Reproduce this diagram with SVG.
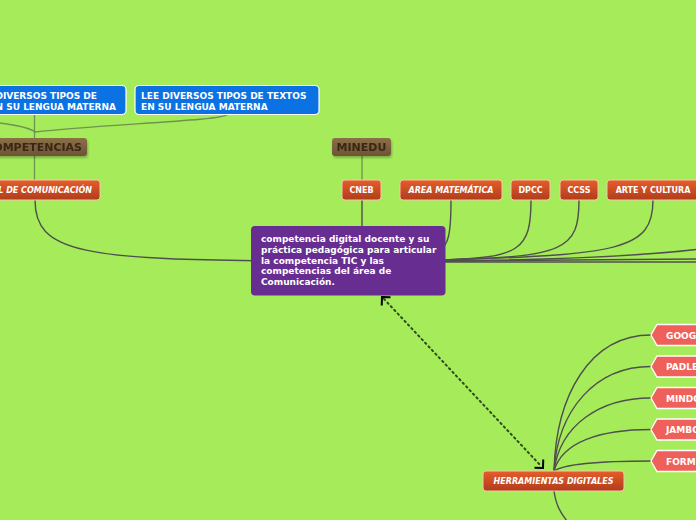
<svg xmlns="http://www.w3.org/2000/svg" width="696" height="520" viewBox="0 0 696 520">
<defs>
<linearGradient id="gOr" x1="0" y1="0" x2="0" y2="1"><stop offset="0" stop-color="#e65d2b"/><stop offset="1" stop-color="#b03c1b"/></linearGradient>
<linearGradient id="gBr" x1="0" y1="0" x2="0" y2="1"><stop offset="0" stop-color="#8a7048"/><stop offset="1" stop-color="#6c5434"/></linearGradient>
<marker id="arr" viewBox="-8 -8 10 16" markerWidth="10" markerHeight="16" refX="0" refY="0" markerUnits="userSpaceOnUse" orient="auto-start-reverse">
<path d="M -6 -6 L 0 0 L -6 6" fill="none" stroke="#000" stroke-width="2"/>
</marker>
<filter id="sh" x="-10%" y="-20%" width="120%" height="160%"><feDropShadow dx="1" dy="2" stdDeviation="1" flood-color="#000" flood-opacity="0.25"/></filter>
</defs>
<style>
.t{font-family:"DejaVu Sans",Verdana,sans-serif;font-weight:bold;fill:#fff}
.o{fill:url(#gOr);stroke:#f5c8a8;stroke-width:1}
.b{fill:#0a72e2;stroke:#fff;stroke-width:1.2}
.br{fill:url(#gBr)}
.bt{font-family:"DejaVu Sans",Verdana,sans-serif;font-weight:bold;fill:#3b2612;font-size:11px}
.p{fill:#f0605a;stroke:#fff;stroke-width:1.3}
.c{fill:none;stroke:#4f4f4f;stroke-width:1.4}
.g{fill:none;stroke:#6e9250;stroke-width:1.3}
</style>
<rect width="696" height="520" fill="#a6ec5a"/>
<g id="connectors">
<path class="g" d="M 34.5 114 L 34.5 138"/>
<path class="g" d="M 228 114 C 226 121, 100 124, 35 132"/>
<path class="g" d="M 0 123 C 15 125, 30 128, 35 132"/>
<path class="g" d="M 34.5 156 L 34.5 180"/>
<path class="g" d="M 362 156 L 362 180"/>
<path class="c" stroke-width="2" d="M 300 261 C 80 260.5, 35 252, 35 200"/>
<path class="c" d="M 362 200 L 362 240"/>
<path class="c" d="M 451 200 C 451 235, 448 245, 440 250"/>
<path class="c" d="M 531 200 C 531 250, 520 258, 440 260"/>
<path class="c" d="M 579 200 C 579 250, 565 257, 440 260"/>
<path class="c" d="M 653 200 C 653 250, 620 255, 440 260"/>
<path class="c" stroke-width="2" d="M 440 261 C 560 260, 640 256, 700 249"/>
<path class="c" stroke-width="2.4" d="M 440 261 L 700 259"/>
<path class="c" stroke-width="2.4" d="M 440 262 L 700 262"/>
<path d="M 384 299 L 541 466" fill="none" stroke="#2f4a1e" stroke-width="2" stroke-dasharray="1.5 3.5" stroke-linecap="round"/>
<path d="M 382 297 L 543 468" fill="none" stroke="none" marker-start="url(#arr)" marker-end="url(#arr)"/>
<path class="c" d="M 554 471 C 556 395, 590 335, 651 335"/>
<path class="c" d="M 554 471 C 558 410, 595 366.5, 651 366.5"/>
<path class="c" d="M 554 471 C 560 425, 600 398, 651 398"/>
<path class="c" d="M 554 471 C 562 442, 600 429.5, 651 429.5"/>
<path class="c" d="M 554 471 C 566 463, 605 461, 651 461"/>
<path class="c" d="M 554 491 C 556 505, 560 512, 567 521"/>
</g>
<g id="n-blue1"><rect class="b" x="-20" y="85.5" width="146" height="29" rx="4"/><text class="t" font-size="9" text-anchor="end" x="97" y="98.5">DIVERSOS TIPOS DE</text><text class="t" font-size="9" text-anchor="end" x="116" y="109.5">EN SU LENGUA MATERNA</text></g>
<g id="n-blue2"><rect class="b" x="135" y="85.5" width="184" height="29" rx="4"/><text class="t" font-size="9" x="141" y="98.5">LEE DIVERSOS TIPOS DE TEXTOS</text><text class="t" font-size="9" x="141" y="109.5">EN SU LENGUA MATERNA</text></g>
<g id="n-competencias" filter="url(#sh)"><rect class="br" x="-20" y="138" width="107" height="18" rx="3"/><text class="bt" x="82" y="151" text-anchor="end">COMPETENCIAS</text></g>
<g id="n-minedu" filter="url(#sh)"><rect class="br" x="332" y="138" width="59" height="18" rx="3"/><text class="bt" x="361.5" y="151" text-anchor="middle">MINEDU</text></g>
<g id="n-comunicacion"><rect class="o" x="-20" y="180" width="120" height="20" rx="3"/><text class="t" font-size="8" font-style="italic" x="92" y="193" text-anchor="end">L DE COMUNICACIÓN</text></g>
<g id="n-cneb"><rect class="o" x="342" y="180" width="39" height="20" rx="3"/><text class="t" font-size="8" x="361.5" y="193" text-anchor="middle">CNEB</text></g>
<g id="n-matematica"><rect class="o" x="400" y="180" width="102" height="20" rx="3"/><text class="t" font-size="8" font-style="italic" x="451" y="193" text-anchor="middle">AREA MATEMÁTICA</text></g>
<g id="n-dpcc"><rect class="o" x="511" y="180" width="39" height="20" rx="3"/><text class="t" font-size="8" x="530.5" y="193" text-anchor="middle">DPCC</text></g>
<g id="n-ccss"><rect class="o" x="560" y="180" width="38" height="20" rx="3"/><text class="t" font-size="8" x="579" y="193" text-anchor="middle">CCSS</text></g>
<g id="n-arte"><rect class="o" x="607" y="180" width="95" height="20" rx="3"/><text class="t" font-size="8" x="653" y="193" text-anchor="middle">ARTE Y CULTURA</text></g>
<g id="n-central"><rect x="251" y="226" width="194.5" height="69.5" rx="4" fill="#672d91"/>
<text class="t" font-size="9" x="261" y="241.7">competencia digital docente y su</text>
<text class="t" font-size="9" x="261" y="252.6">práctica pedagógica para articular</text>
<text class="t" font-size="9" x="261" y="263.5">la competencia TIC y las</text>
<text class="t" font-size="9" x="261" y="274.4">competencias del área de</text>
<text class="t" font-size="9" x="261" y="285.3">Comunicación.</text></g>
<g id="n-herramientas"><rect class="o" x="483" y="471" width="141" height="20" rx="3"/><text class="t" font-size="8" font-style="italic" x="553.5" y="484.3" text-anchor="middle">HERRAMIENTAS DIGITALES</text></g>
<g id="n-goog"><path class="p" d="M 651 335 L 657 324.5 L 702 324.5 L 702 345.5 L 657 345.5 Z"/><text class="t" font-size="9" x="666" y="338.5">GOOG</text></g>
<g id="n-padle"><path class="p" d="M 651 366.5 L 657 356 L 702 356 L 702 377 L 657 377 Z"/><text class="t" font-size="9" x="666" y="370">PADLE</text></g>
<g id="n-mindo"><path class="p" d="M 651 398 L 657 387.5 L 702 387.5 L 702 408.5 L 657 408.5 Z"/><text class="t" font-size="9" x="666" y="401.5">MINDO</text></g>
<g id="n-jambo"><path class="p" d="M 651 429.5 L 657 419 L 702 419 L 702 440 L 657 440 Z"/><text class="t" font-size="9" x="666" y="433">JAMBO</text></g>
<g id="n-form"><path class="p" d="M 651 461 L 657 450.5 L 702 450.5 L 702 471.5 L 657 471.5 Z"/><text class="t" font-size="9" x="666" y="464.5">FORM</text></g>
</svg>
